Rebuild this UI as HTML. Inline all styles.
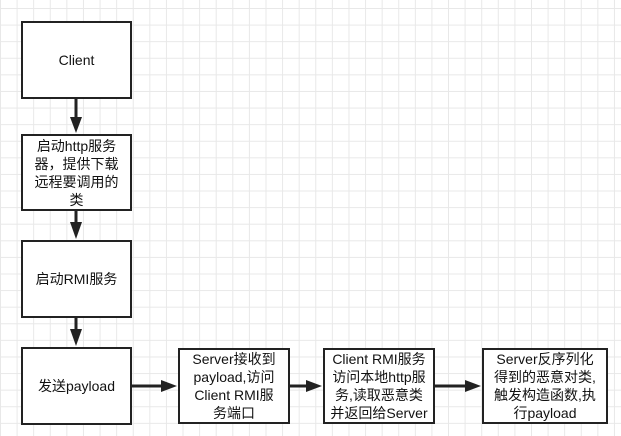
<!DOCTYPE html>
<html><head><meta charset="utf-8"><style>
body{margin:0;width:621px;height:436px;overflow:hidden;position:relative;background-color:#fff;
background-image:linear-gradient(#e8e8e8 1px,transparent 1px),linear-gradient(90deg,#e8e8e8 1px,transparent 1px);
background-size:16.6px 16.6px;background-position:0px 8px;font-family:"Liberation Sans","Noto Sans CJK SC",sans-serif;}
.b{position:absolute;box-sizing:border-box;border:2px solid #222;background:#fff;display:flex;align-items:center;justify-content:center;text-align:center;font-size:14px;line-height:18px;color:#111;white-space:nowrap;}
svg{position:absolute;left:0;top:0}
</style></head><body>
<div class="b" style="left:21px;top:21px;width:111px;height:78px">Client</div>
<div class="b" style="left:21px;top:134px;width:111px;height:77px">启动http服务<br>器，提供下载<br>远程要调用的<br>类</div>
<div class="b" style="left:21px;top:240px;width:111px;height:78px">启动RMI服务</div>
<div class="b" style="left:21px;top:347px;width:111px;height:78px">发送payload</div>
<div class="b" style="left:178px;top:348px;width:112px;height:76px">Server接收到<br>payload,访问<br>Client RMI服<br>务端口</div>
<div class="b" style="left:323px;top:348px;width:112px;height:76px">Client RMI服务<br>访问本地http服<br>务,读取恶意类<br>并返回给Server</div>
<div class="b" style="left:482px;top:348px;width:126px;height:76px">Server反序列化<br>得到的恶意对类,<br>触发构造函数,执<br>行payload</div>
<svg width="621" height="436">
<g stroke="#222" stroke-width="3" fill="#222">
<line x1="76" y1="99" x2="76" y2="120"/><polygon points="70,117 82,117 76,133" stroke="none"/>
<line x1="76" y1="211" x2="76" y2="225"/><polygon points="70,222 82,222 76,239" stroke="none"/>
<line x1="76" y1="318" x2="76" y2="333"/><polygon points="70,329 82,329 76,346" stroke="none"/>
<line x1="132" y1="386" x2="164" y2="386"/><polygon points="161,380 161,392 177,386" stroke="none"/>
<line x1="290" y1="386" x2="309" y2="386"/><polygon points="306,380 306,392 322,386" stroke="none"/>
<line x1="435" y1="386" x2="468" y2="386"/><polygon points="465,380 465,392 481,386" stroke="none"/>
</g></svg>
</body></html>
